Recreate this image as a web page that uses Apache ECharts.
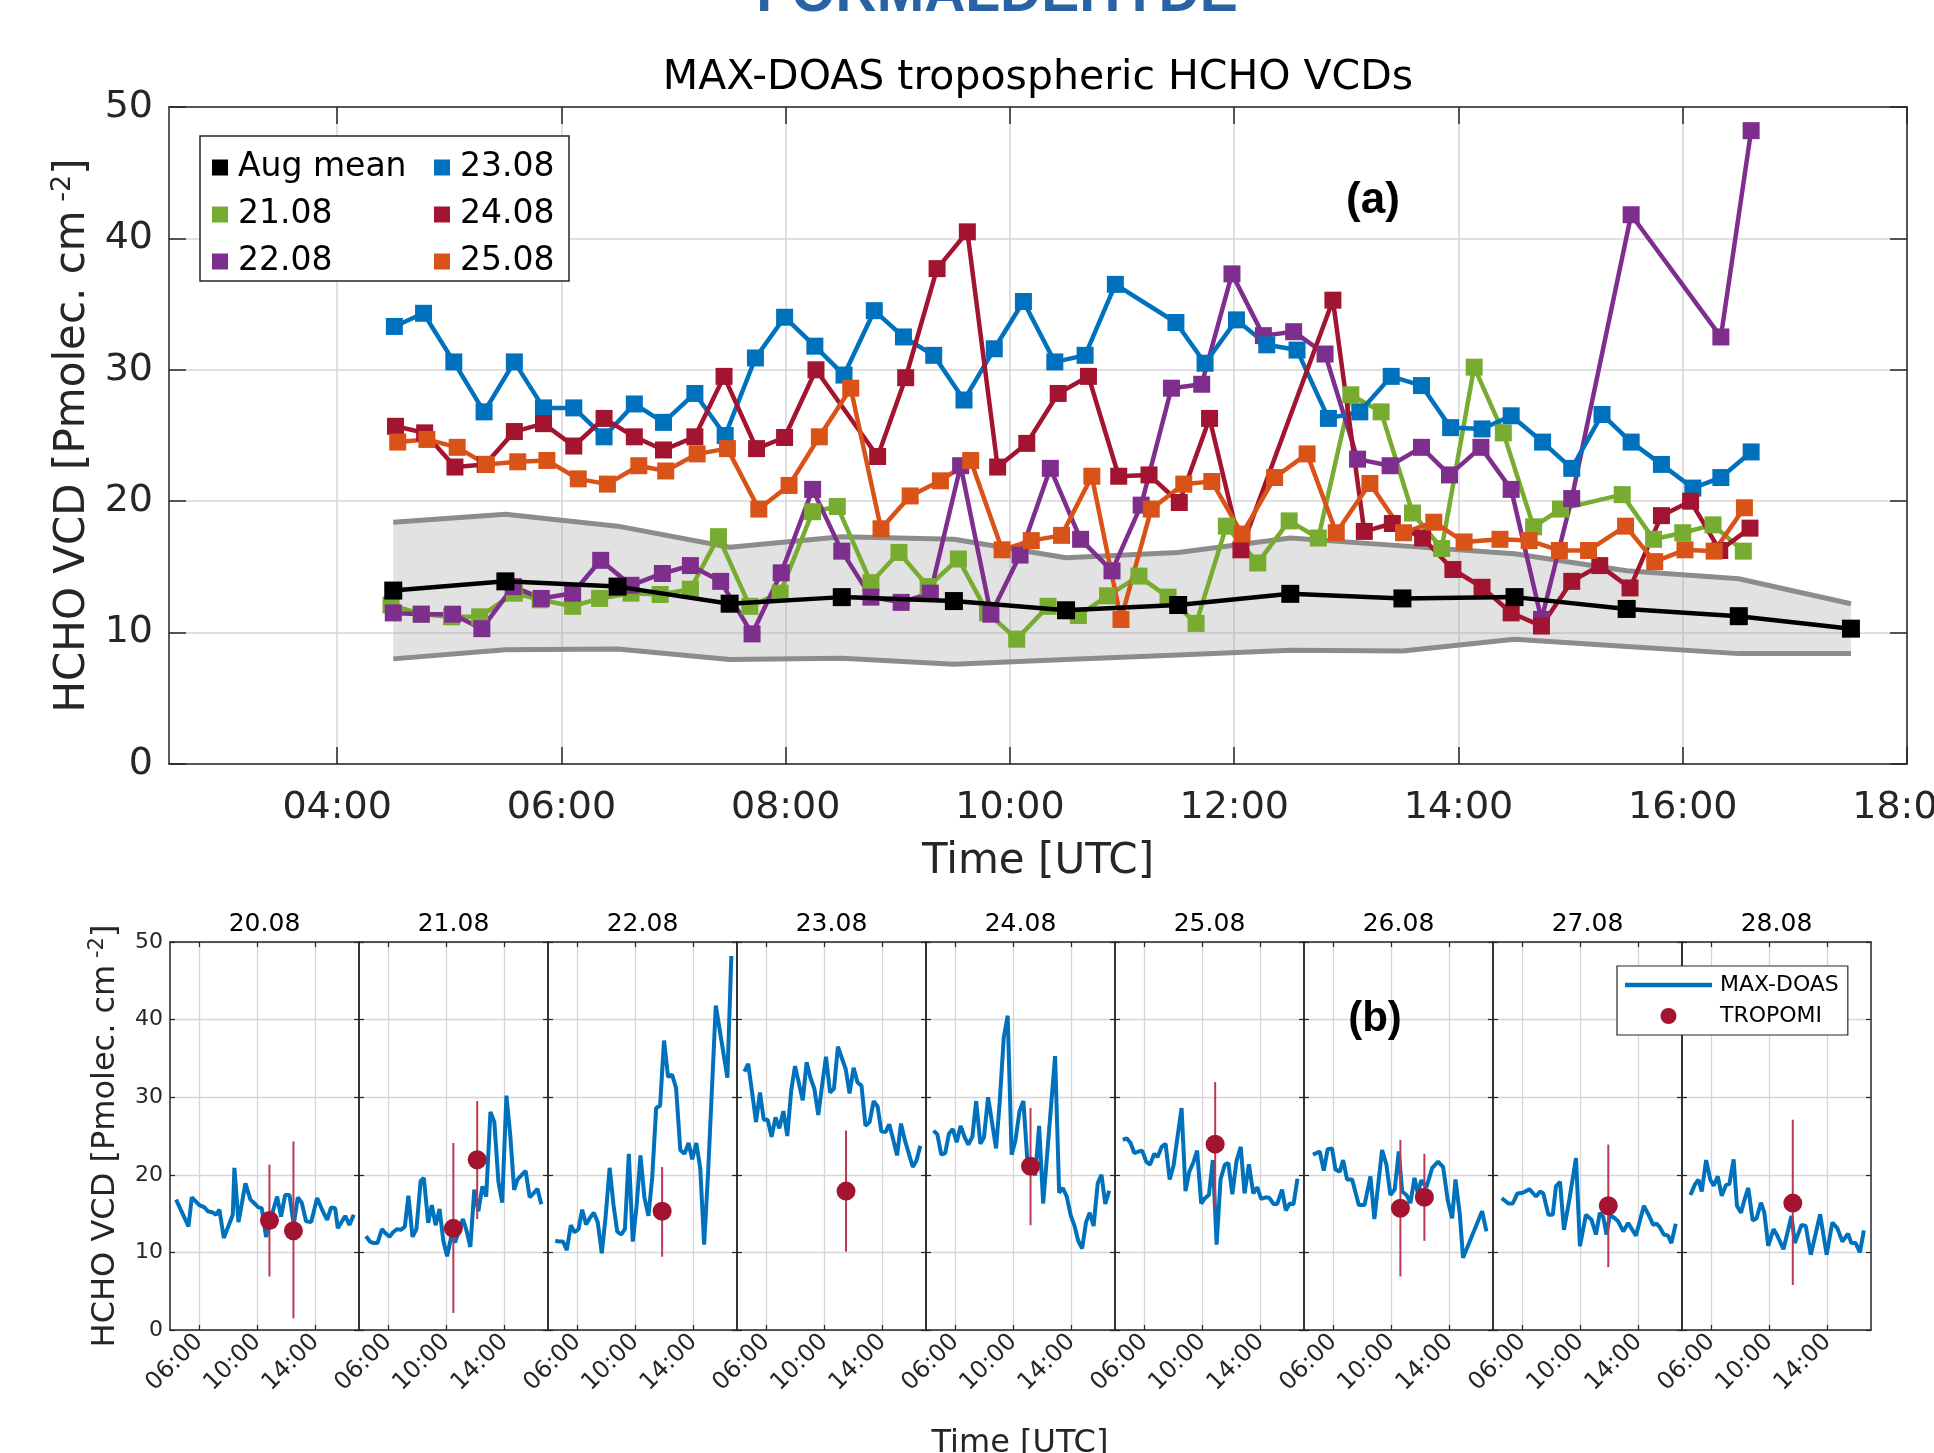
<!DOCTYPE html>
<html>
<head>
<meta charset="utf-8">
<script src="https://cdn.jsdelivr.net/npm/echarts@6/dist/echarts.min.js"></script>
<style>
html, body { margin: 0; padding: 0; background: #fff; }
#chart { width: 1934px; height: 1453px; }
</style>
</head>
<body>
<div id="chart"></div>
<script>
// ---- panel (a): August mean and +/- band (hourly)
const meanHours = [4.5, 5.5, 6.5, 7.5, 8.5, 9.5, 10.5, 11.5, 12.5, 13.5, 14.5, 15.5, 16.5, 17.5];
const meanVals  = [13.2, 13.9, 13.5, 12.2, 12.7, 12.4, 11.7, 12.1, 12.95, 12.6, 12.7, 11.8, 11.25, 10.3];
const meanUpper = [18.4, 19.0, 18.1, 16.5, 17.3, 17.1, 15.7, 16.1, 17.2, 16.6, 16.0, 14.7, 14.1, 12.2];
const meanLower = [8.0, 8.7, 8.75, 7.95, 8.05, 7.6, 7.95, 8.3, 8.65, 8.6, 9.5, 8.95, 8.4, 8.4];

// ---- daily MAX-DOAS series (time in UTC hours)
const t20 = [4.42, 5.27, 5.50, 6.02, 6.37, 6.60, 6.94, 7.17, 7.40, 7.70, 8.32, 8.43, 8.71, 9.19, 9.53, 9.76, 10.08, 10.31, 10.61, 10.91, 11.37, 11.64, 11.92, 12.22, 12.51, 12.79, 13.06, 13.36, 13.71, 14.12, 14.51, 14.81, 15.08, 15.36, 15.54, 16.05, 16.34, 16.64];
const v20 = [16.8, 13.35, 17.1, 16.1, 15.8, 15.3, 15.15, 14.85, 15.5, 11.85, 14.85, 20.9, 13.9, 18.9, 16.8, 16.4, 15.8, 15.7, 12.0, 14.2, 17.2, 14.6, 17.4, 17.4, 13.55, 17.1, 16.4, 14.0, 13.9, 17.0, 15.3, 14.2, 15.8, 15.7, 13.1, 14.7, 13.55, 14.85];

const t21 = [4.48, 4.75, 5.02, 5.27, 5.58, 5.81, 6.10, 6.34, 6.62, 6.88, 7.15, 7.40, 7.68, 7.95, 8.24, 8.46, 8.76, 9.01, 9.27, 9.54, 9.80, 10.06, 10.34, 10.61, 10.87, 11.15, 11.41, 11.66, 11.93, 12.21, 12.49, 12.75, 13.04, 13.31, 13.59, 13.85, 14.14, 14.40, 14.67, 14.91, 15.46, 15.74, 16.00, 16.27, 16.54];
const v21 = [12.1, 11.4, 11.2, 11.2, 13.0, 12.5, 12.0, 12.6, 13.0, 12.9, 13.3, 17.3, 12.0, 13.0, 19.2, 19.6, 13.8, 16.1, 13.5, 15.6, 11.5, 9.5, 12.0, 11.3, 12.8, 14.3, 12.7, 10.7, 18.1, 15.3, 18.5, 17.2, 28.1, 26.8, 19.1, 16.4, 30.2, 25.2, 18.05, 19.4, 20.5, 17.1, 17.6, 18.2, 16.2];

const t22 = [4.50, 4.75, 5.03, 5.29, 5.57, 5.82, 6.10, 6.35, 6.62, 6.90, 7.15, 7.42, 7.70, 7.96, 8.24, 8.50, 8.76, 9.03, 9.29, 9.56, 9.83, 10.09, 10.36, 10.63, 10.91, 11.17, 11.44, 11.71, 11.98, 12.26, 12.53, 12.81, 13.10, 13.39, 13.67, 13.92, 14.20, 14.47, 14.74, 15.01, 15.54, 16.34, 16.61];
const v22 = [11.5, 11.4, 11.4, 10.3, 13.5, 12.6, 13.0, 15.5, 13.6, 14.5, 15.1, 13.9, 9.9, 14.55, 20.9, 16.2, 12.7, 12.3, 13.0, 22.7, 11.4, 15.9, 22.5, 17.1, 14.7, 19.7, 28.6, 28.9, 37.3, 32.6, 32.9, 31.2, 23.2, 22.7, 24.1, 22.0, 24.1, 20.9, 11.0, 20.2, 41.8, 32.5, 48.2];

const t23 = [4.51, 4.77, 5.04, 5.31, 5.58, 5.84, 6.11, 6.38, 6.65, 6.91, 7.19, 7.46, 7.73, 7.99, 8.26, 8.52, 8.79, 9.05, 9.32, 9.59, 9.86, 10.12, 10.40, 10.67, 10.94, 11.48, 11.74, 12.02, 12.29, 12.56, 12.84, 13.12, 13.40, 13.67, 13.93, 14.21, 14.47, 14.75, 15.01, 15.28, 15.54, 15.81, 16.09, 16.34, 16.61];
const v23 = [33.3, 34.3, 30.6, 26.8, 30.6, 27.1, 27.1, 24.9, 27.4, 26.0, 28.2, 25.0, 30.9, 34.0, 31.8, 29.6, 34.5, 32.5, 31.1, 27.7, 31.6, 35.2, 30.6, 31.1, 36.5, 33.6, 30.5, 33.8, 31.9, 31.5, 26.3, 26.8, 29.5, 28.8, 25.6, 25.5, 26.5, 24.5, 22.5, 26.6, 24.5, 22.8, 21.0, 21.8, 23.75];

const t24 = [4.52, 4.78, 5.05, 5.32, 5.58, 5.84, 6.11, 6.38, 6.65, 6.91, 7.19, 7.45, 7.74, 7.99, 8.27, 8.82, 9.07, 9.35, 9.62, 9.89, 10.15, 10.43, 10.70, 10.97, 11.24, 11.51, 11.78, 12.06, 12.88, 13.16, 13.41, 13.68, 13.95, 14.21, 14.47, 14.74, 15.01, 15.26, 15.53, 15.81, 16.07, 16.33, 16.60];
const v24 = [25.7, 25.2, 22.6, 22.8, 25.3, 25.9, 24.2, 26.3, 24.9, 23.9, 24.9, 29.5, 24.0, 24.85, 30.0, 23.4, 29.4, 37.7, 40.5, 22.6, 24.4, 28.2, 29.5, 21.9, 22.0, 19.9, 26.3, 16.3, 35.3, 17.7, 18.3, 17.2, 14.8, 13.45, 11.5, 10.5, 13.9, 15.1, 13.4, 18.9, 20.0, 16.25, 17.95];

const t25 = [4.54, 4.80, 5.07, 5.33, 5.61, 5.87, 6.15, 6.41, 6.69, 6.93, 7.21, 7.48, 7.76, 8.03, 8.30, 8.58, 8.85, 9.11, 9.38, 9.65, 9.93, 10.19, 10.46, 10.73, 10.99, 11.26, 11.55, 11.80, 12.07, 12.36, 12.65, 12.91, 13.21, 13.51, 13.78, 14.05, 14.37, 14.63, 14.90, 15.16, 15.49, 15.75, 16.02, 16.28, 16.55];
const v25 = [24.5, 24.7, 24.1, 22.8, 23.0, 23.1, 21.7, 21.3, 22.7, 22.3, 23.6, 24.0, 19.4, 21.2, 24.9, 28.6, 17.9, 20.4, 21.55, 23.1, 16.3, 17.0, 17.4, 21.9, 11.0, 19.4, 21.3, 21.5, 17.5, 21.8, 23.6, 17.6, 21.35, 17.6, 18.4, 16.9, 17.1, 17.0, 16.25, 16.25, 18.1, 15.4, 16.3, 16.2, 19.5];

const t26 = [4.62, 5.08, 5.36, 5.63, 5.93, 6.16, 6.46, 6.69, 6.96, 7.31, 7.77, 8.16, 8.57, 8.84, 9.37, 9.67, 9.94, 10.24, 10.52, 10.75, 11.05, 11.32, 11.60, 11.83, 12.06, 12.42, 12.81, 13.22, 13.57, 13.89, 14.19, 14.42, 14.72, 14.94, 16.25, 16.55];
const v26 = [22.6, 23.0, 20.55, 23.3, 23.4, 20.7, 20.4, 21.9, 19.4, 19.4, 16.1, 16.1, 19.8, 14.3, 23.2, 21.3, 17.4, 18.1, 23.0, 17.85, 17.4, 16.35, 19.6, 17.6, 19.3, 18.4, 20.85, 21.7, 21.0, 16.7, 14.4, 19.4, 14.85, 9.3, 15.3, 12.7];

const t27 = [4.60, 5.06, 5.36, 5.68, 6.05, 6.50, 6.96, 7.24, 7.46, 7.81, 8.11, 8.33, 8.61, 8.88, 9.25, 9.71, 9.98, 10.39, 10.78, 11.08, 11.35, 11.58, 11.81, 12.04, 12.38, 12.61, 12.96, 13.30, 13.83, 14.38, 14.74, 15.02, 15.25, 15.47, 15.75, 16.05, 16.27, 16.57];
const v27 = [17.0, 16.3, 16.3, 17.6, 17.7, 18.15, 17.2, 17.85, 17.6, 14.85, 14.85, 18.5, 19.1, 12.9, 16.8, 22.15, 10.8, 14.85, 14.2, 12.3, 15.1, 14.6, 12.3, 14.85, 14.4, 14.0, 12.7, 13.8, 12.15, 16.0, 14.7, 13.55, 13.7, 13.25, 12.3, 12.15, 11.2, 13.7];

const t28 = [4.58, 4.90, 5.13, 5.36, 5.66, 5.95, 6.18, 6.46, 6.73, 7.03, 7.26, 7.55, 7.78, 8.06, 8.33, 8.56, 8.86, 9.13, 9.43, 9.66, 9.93, 10.30, 10.57, 10.98, 11.53, 11.76, 12.22, 12.51, 12.86, 13.50, 13.95, 14.34, 14.69, 15.03, 15.42, 15.65, 15.94, 16.24, 16.51];
const v28 = [17.4, 18.8, 19.35, 17.85, 21.9, 19.35, 18.6, 19.8, 17.3, 18.7, 18.8, 22.0, 16.0, 15.1, 17.0, 18.3, 14.1, 14.4, 16.4, 15.15, 10.85, 13.0, 12.1, 10.4, 14.7, 11.2, 13.55, 13.4, 9.7, 14.9, 9.7, 13.85, 13.1, 11.4, 12.4, 11.2, 11.2, 10.0, 12.85];

// ---- TROPOMI overpasses (panel b)
const tropoDay  = [0, 0, 1, 1, 2, 3, 4, 5, 6, 6, 7, 8];
const tropoTime = [10.84, 12.49, 10.49, 12.13, 11.85, 11.50, 11.19, 10.89, 10.63, 12.28, 11.93, 11.62];
const tropoVal  = [14.1, 12.8, 13.1, 21.95, 15.3, 17.9, 21.1, 23.95, 15.7, 17.1, 16.0, 16.35];
const tropoLow  = [6.9, 1.5, 2.2, 14.3, 9.45, 10.1, 13.5, 15.8, 6.9, 11.5, 8.1, 5.8];
const tropoHigh = [21.3, 24.3, 24.1, 29.5, 21.0, 25.7, 28.6, 31.95, 24.5, 22.7, 23.9, 27.1];

const daysB = ['20.08', '21.08', '22.08', '23.08', '24.08', '25.08', '26.08', '27.08', '28.08'];
const dayTimes = [t20, t21, t22, t23, t24, t25, t26, t27, t28];
const dayVals  = [v20, v21, v22, v23, v24, v25, v26, v27, v28];

const ticksA = [4, 6, 8, 10, 12, 14, 16, 18];
const ticksB = [6, 10, 14];

const FONT = 'DejaVu Sans';
const AX = '#262626';
const GRIDC = '#d6d6d6';
const BLUE = '#0072bd';
const BANDLINE = '#8c8c8c';
const colorsA = { '21.08': '#77ac30', '22.08': '#7e2f8e', '23.08': '#0072bd', '24.08': '#a2142f', '25.08': '#d95319' };

function pairs(t, v) { return t.map((x, i) => [x, v[i]]); }
function fmtHour(v) { return (v < 10 ? '0' : '') + v + ':00'; }

const chart = echarts.init(document.getElementById('chart'));

// grids
const grids = [{ left: 169, top: 107, width: 1738, height: 657, outerBoundsMode: 'none' }];
const B_LEFT = 170, B_W = 189, B_TOP = 942, B_H = 388;
for (let i = 0; i < 9; i++) {
    grids.push({ left: B_LEFT + B_W * i, top: B_TOP, width: B_W, height: B_H, outerBoundsMode: 'none' });
}

const xAxes = [];
const yAxes = [];

// panel (a) axes
['bottom', 'top'].forEach(pos => {
    xAxes.push({
        gridIndex: 0, type: 'value', position: pos, min: 2.5, max: 18,
        axisLine: { show: true, onZero: false, lineStyle: { color: AX, width: 1.5 } },
        axisTick: { show: true, inside: true, length: 17, customValues: ticksA, lineStyle: { color: AX, width: 1.5 } },
        axisLabel: { show: pos === 'bottom', customValues: ticksA, formatter: fmtHour, fontSize: 38, fontFamily: FONT, color: AX, margin: 25 },
        splitLine: { show: pos === 'bottom', lineStyle: { color: GRIDC, width: 1.5 } },
        name: pos === 'bottom' ? 'Time [UTC]' : '', nameLocation: 'middle', nameGap: 77, nameMoveOverlap: false,
        nameTextStyle: { fontSize: 42, fontFamily: FONT, color: AX }
    });
});
['left', 'right'].forEach(pos => {
    yAxes.push({
        gridIndex: 0, type: 'value', position: pos, min: 0, max: 50, interval: 10,
        axisLine: { show: true, onZero: false, lineStyle: { color: AX, width: 1.5 } },
        axisTick: { show: true, inside: true, length: 17, lineStyle: { color: AX, width: 1.5 } },
        axisLabel: { show: pos === 'left', fontSize: 38, fontFamily: FONT, color: AX, margin: 16 },
        splitLine: { show: pos === 'left', lineStyle: { color: GRIDC, width: 1.5 } },
        name: pos === 'left' ? 'HCHO VCD [Pmolec. cm{sup| -2}]' : '', nameLocation: 'middle', nameGap: 71, nameRotate: 90, nameMoveOverlap: false,
        nameTextStyle: { fontSize: 42, fontFamily: FONT, color: AX, rich: { sup: { fontSize: 27, fontFamily: FONT, color: AX, verticalAlign: 'top', padding: [0, 0, 22, 0] } } }
    });
});

// panel (b) axes
for (let i = 0; i < 9; i++) {
    const g = i + 1;
    ['bottom', 'top'].forEach(pos => {
        xAxes.push({
            gridIndex: g, type: 'value', position: pos, min: 4, max: 17,
            axisLine: { show: true, onZero: false, lineStyle: { color: AX, width: 1.5 } },
            axisTick: { show: true, inside: true, length: 5, customValues: ticksB, lineStyle: { color: AX, width: 1.2 } },
            axisLabel: { show: pos === 'bottom', customValues: ticksB, formatter: fmtHour, rotate: 45, fontSize: 24, fontFamily: FONT, color: AX, margin: 8 },
            splitLine: { show: pos === 'bottom', lineStyle: { color: GRIDC, width: 1.3 } },
            name: pos === 'top' ? daysB[i] : '', nameLocation: 'middle', nameGap: 5, nameMoveOverlap: false,
            nameTextStyle: { fontSize: 25, fontFamily: FONT, color: '#000' }
        });
    });
    ['left', 'right'].forEach(pos => {
        const first = (i === 0 && pos === 'left');
        yAxes.push({
            gridIndex: g, type: 'value', position: pos, min: 0, max: 50, interval: 10,
            axisLine: { show: true, onZero: false, lineStyle: { color: AX, width: 1.5 } },
            axisTick: { show: true, inside: true, length: 5, lineStyle: { color: AX, width: 1.2 } },
            axisLabel: { show: first, fontSize: 22, fontFamily: FONT, color: AX, margin: 7 },
            splitLine: { show: pos === 'left', lineStyle: { color: GRIDC, width: 1.3 } },
            name: first ? 'HCHO VCD [Pmolec. cm{sup| -2}]' : '', nameLocation: 'middle', nameGap: 46, nameRotate: 90, nameMoveOverlap: false,
            nameTextStyle: { fontSize: 32, fontFamily: FONT, color: AX, rich: { sup: { fontSize: 21, fontFamily: FONT, color: AX, verticalAlign: 'top', padding: [0, 0, 16, 0] } } }
        });
    });
}

const series = [];

// shaded band around the August mean
series.push({
    type: 'custom', name: 'band', xAxisIndex: 0, yAxisIndex: 0, z: 1, silent: true,
    data: [[meanHours[0], meanLower[0], meanUpper[0]]],
    renderItem: function (params, api) {
        const pts = [];
        meanHours.forEach((h, i) => pts.push(api.coord([h, meanUpper[i]])));
        for (let i = meanHours.length - 1; i >= 0; i--) pts.push(api.coord([meanHours[i], meanLower[i]]));
        return { type: 'polygon', shape: { points: pts }, style: { fill: 'rgba(160,160,160,0.3)' } };
    }
});
series.push({
    type: 'line', name: 'band-upper', xAxisIndex: 0, yAxisIndex: 0, z: 2, silent: true,
    data: pairs(meanHours, meanUpper), symbol: 'none', lineStyle: { color: BANDLINE, width: 5 }
});
series.push({
    type: 'line', name: 'band-lower', xAxisIndex: 0, yAxisIndex: 0, z: 2, silent: true,
    data: pairs(meanHours, meanLower), symbol: 'none', lineStyle: { color: BANDLINE, width: 5 }
});

// daily series, panel (a)
const daysA = ['21.08', '22.08', '23.08', '24.08', '25.08'];
const dataA = [[t21, v21], [t22, v22], [t23, v23], [t24, v24], [t25, v25]];
daysA.forEach((d, k) => {
    series.push({
        type: 'line', name: d, xAxisIndex: 0, yAxisIndex: 0, z: 3,
        data: pairs(dataA[k][0], dataA[k][1]),
        symbol: 'rect', symbolSize: 17, showAllSymbol: true,
        lineStyle: { color: colorsA[d], width: 4.5 }, itemStyle: { color: colorsA[d] }
    });
});
series.push({
    type: 'line', name: 'Aug mean', xAxisIndex: 0, yAxisIndex: 0, z: 4,
    data: pairs(meanHours, meanVals), symbol: 'rect', symbolSize: 18, showAllSymbol: true,
    lineStyle: { color: '#000', width: 4.5 }, itemStyle: { color: '#000' }
});

// panel (b)
for (let i = 0; i < 9; i++) {
    const ax = 2 + 2 * i;
    series.push({
        type: 'line', name: 'MAX-DOAS', xAxisIndex: ax, yAxisIndex: ax, z: 3,
        data: pairs(dayTimes[i], dayVals[i]), symbol: 'none',
        lineStyle: { color: BLUE, width: 4 }, itemStyle: { color: BLUE }
    });
    const bars = [], pts = [];
    tropoDay.forEach((d, k) => {
        if (d === i) {
            bars.push([tropoTime[k], tropoLow[k], tropoHigh[k]]);
            pts.push([tropoTime[k], tropoVal[k]]);
        }
    });
    series.push({
        type: 'custom', name: 'TROPOMI-err', xAxisIndex: ax, yAxisIndex: ax, z: 4, silent: true,
        data: bars, encode: { x: 0, y: [1, 2] },
        renderItem: function (params, api) {
            const a = api.coord([api.value(0), api.value(1)]);
            const b = api.coord([api.value(0), api.value(2)]);
            return { type: 'line', shape: { x1: a[0], y1: a[1], x2: b[0], y2: b[1] }, style: { stroke: '#b93a52', lineWidth: 2 } };
        }
    });
    series.push({
        type: 'scatter', name: 'TROPOMI', xAxisIndex: ax, yAxisIndex: ax, z: 5,
        data: pts, symbol: 'circle', symbolSize: 19, itemStyle: { color: '#a2142f', opacity: 1 }
    });
}

const legendText = { fontSize: 33, fontFamily: FONT, color: '#000', padding: [0, 0, 0, 5] };

chart.setOption({
    animation: false,
    backgroundColor: '#fff',
    grid: grids,
    xAxis: xAxes,
    yAxis: yAxes,
    legend: [
        { data: ['Aug mean', '21.08', '22.08'], orient: 'vertical', left: 207, top: 146, icon: 'rect',
          itemWidth: 16, itemHeight: 16, itemGap: 14, selectedMode: false, textStyle: legendText },
        { data: ['23.08', '24.08', '25.08'], orient: 'vertical', left: 429, top: 146, icon: 'rect',
          itemWidth: 16, itemHeight: 16, itemGap: 14, selectedMode: false, textStyle: legendText },
        { data: [{ name: 'MAX-DOAS', icon: 'path://M0,0 L87,0 L87,4.5 L0,4.5 Z' }, { name: 'TROPOMI', icon: 'circle' }],
          orient: 'vertical', left: 1617, top: 966,
          itemWidth: 87, itemHeight: 16, itemGap: 9, padding: [8, 9, 8, 8], selectedMode: false,
          borderColor: AX, borderWidth: 1.2, backgroundColor: '#fff',
          textStyle: { fontSize: 22, fontFamily: FONT, color: '#000', padding: [0, 0, 0, 3] } }
    ],
    graphic: [
        { type: 'rect', z: 3, shape: { x: 200, y: 136, width: 369, height: 145 },
          style: { fill: '#fff', stroke: AX, lineWidth: 1.5 } },
        { type: 'text', x: 997, y: -5, z: 5,
          style: { text: 'FORMALDEHYDE', fill: '#2a63a4', font: 'bold 57px "Liberation Sans"', align: 'center', verticalAlign: 'middle' } },
        { type: 'text', x: 1038, y: 78, z: 5,
          style: { text: 'MAX-DOAS tropospheric HCHO VCDs', fill: '#000', font: '41px "DejaVu Sans"', align: 'center', verticalAlign: 'middle' } },
        { type: 'text', x: 1373, y: 201, z: 5,
          style: { text: '(a)', fill: '#000', font: 'bold 44px "Liberation Sans"', align: 'center', verticalAlign: 'middle' } },
        { type: 'text', x: 1375, y: 1019, z: 5,
          style: { text: '(b)', fill: '#000', font: 'bold 42px "Liberation Sans"', align: 'center', verticalAlign: 'middle' } },
        { type: 'text', x: 1020, y: 1444, z: 5,
          style: { text: 'Time [UTC]', fill: AX, font: '32px "DejaVu Sans"', align: 'center', verticalAlign: 'middle' } }
    ],
    series: series
});
</script>
</body>
</html>
